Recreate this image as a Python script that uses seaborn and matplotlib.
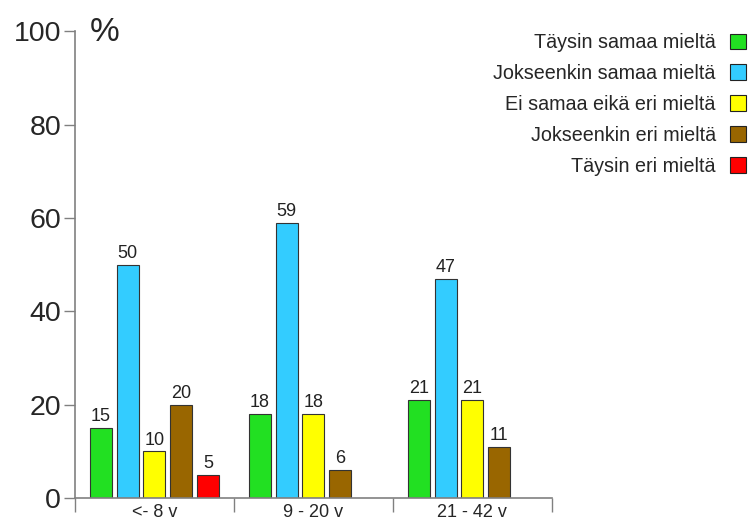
import pandas as pd
import matplotlib.pyplot as plt
import seaborn as sns
from matplotlib.ticker import FixedLocator
from matplotlib.patches import Patch

# Data
groups = ["<- 8 v", "9 - 20 v", "21 - 42 v"]
answers = ["Täysin samaa mieltä", "Jokseenkin samaa mieltä", "Ei samaa eikä eri mieltä",
           "Jokseenkin eri mieltä", "Täysin eri mieltä"]
values_8 = [15, 50, 10, 20, 5]
values_20 = [18, 59, 18, 6, None]
values_42 = [21, 47, 21, 11, None]
colors = ["#22e022", "#33ccff", "#ffff00", "#996600", "#ff0000"]

rows = []
for g, vals in zip(groups, [values_8, values_20, values_42]):
    for a, v in zip(answers, vals):
        if v is not None:
            rows.append({"ryhma": g, "vastaus": a, "osuus": v})
df = pd.DataFrame(rows)

sns.set_theme(style="white")
plt.rcParams['font.family'] = ['Liberation Sans', 'DejaVu Sans']

fig = plt.figure(figsize=(7.52, 5.29), dpi=100)
ax = fig.add_axes([0.0997, 0.0586, 0.634, 0.8824])

sns.barplot(data=df, x="ryhma", y="osuus", hue="vastaus", order=groups, hue_order=answers,
            palette=colors, saturation=1, width=0.84, gap=0.18, edgecolor="#333333",
            linewidth=0.8, errorbar=None, ax=ax, legend=False)

for c in ax.containers:
    ax.bar_label(c, fmt="%g", padding=2, fontsize=13, color="#222222")

ax.set_ylim(0, 100)
ax.set_xlim(-0.5, 2.5)
ax.set_yticks([0, 20, 40, 60, 80, 100])
ax.tick_params(axis="y", labelsize=20.5, length=8, width=1, color="#808080", left=True, pad=2)
ax.tick_params(axis="x", which="major", labelsize=13, length=0, pad=4)
ax.xaxis.set_minor_locator(FixedLocator([-0.5, 0.5, 1.5, 2.5]))
ax.tick_params(axis="x", which="minor", length=10, width=1, color="#808080", bottom=True)
ax.set_xlabel("")
ax.set_ylabel("")
sns.despine(ax=ax)
for s in ["left", "bottom"]:
    ax.spines[s].set_color("#808080")
    ax.spines[s].set_linewidth(1.2)

ax.text(0.03, 0.998, "%", transform=ax.transAxes, fontsize=24, va="center", ha="left")

handles = [Patch(facecolor=c, edgecolor="#222222", linewidth=0.8) for c in colors]
fig.legend(handles, answers, loc="upper right", bbox_to_anchor=(1.003, 0.952), frameon=False,
           markerfirst=False, fontsize=14.2, handlelength=0.85, handleheight=0.85,
           labelspacing=0.6, handletextpad=0.7, borderaxespad=0.0)

plt.savefig("out.png", dpi=100)
